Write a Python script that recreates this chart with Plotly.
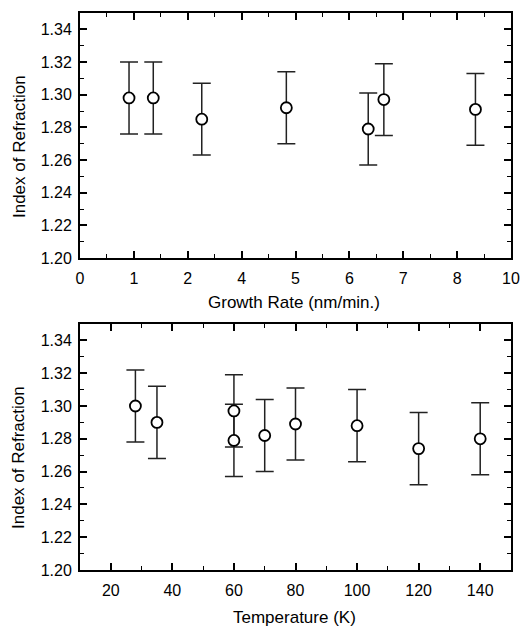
import plotly.graph_objects as go

# ---- Top panel: index of refraction vs growth rate ----
# x values are positions on the printed axis (tick index units, ticks labelled below)
growth_pos = [0.91, 1.36, 2.26, 3.83, 5.35, 5.64, 7.34]
growth_n = [1.298, 1.298, 1.285, 1.292, 1.279, 1.297, 1.291]
growth_err = [0.022, 0.022, 0.022, 0.022, 0.022, 0.022, 0.022]
growth_tickpos = [0, 1, 2, 3, 4, 5, 6, 7, 8]
growth_ticklabels = ["0", "1", "2", "4", "5", "6", "7", "8", "10"]

# ---- Bottom panel: index of refraction vs temperature ----
temp_K = [28, 35, 60, 60, 70, 80, 100, 120, 140]
temp_n = [1.300, 1.290, 1.297, 1.279, 1.282, 1.289, 1.288, 1.274, 1.280]
temp_err = [0.022, 0.022, 0.022, 0.022, 0.022, 0.022, 0.022, 0.022, 0.022]

FONT = "Liberation Sans, Arial, Helvetica, sans-serif"
TITLE_FONT = dict(family=FONT, size=17, color="black")

errstyle = dict(color="#222222", thickness=1.5, width=9)
mk = dict(symbol="circle", size=11, color="white", line=dict(width=1.8, color="black"))

fig = go.Figure()
fig.add_trace(go.Scatter(
    x=growth_pos, y=growth_n, mode="markers", xaxis="x", yaxis="y", marker=mk,
    error_y=dict(type="data", array=growth_err, visible=True, **errstyle),
    showlegend=False))
fig.add_trace(go.Scatter(
    x=temp_K, y=temp_n, mode="markers", xaxis="x2", yaxis="y2", marker=mk,
    error_y=dict(type="data", array=temp_err, visible=True, **errstyle),
    showlegend=False))

axis_common = dict(
    showline=True, linecolor="black", linewidth=2, mirror="allticks",
    ticks="inside", ticklen=7, tickwidth=1.6, tickcolor="black",
    showgrid=False, zeroline=False, automargin=False,
    tickfont=dict(family=FONT, size=16, color="black"),
)
yaxis_common = dict(
    axis_common, range=[1.20, 1.35], tickmode="linear", tick0=1.20, dtick=0.02,
    tickformat=".2f",
    minor=dict(ticks="inside", ticklen=4, tickwidth=1.4, tickcolor="black", dtick=0.01, tick0=1.20),
    ticklabelstandoff=3,
)

fig.update_layout(
    width=532, height=626,
    margin=dict(l=80, r=21, t=13, b=56),
    paper_bgcolor="white", plot_bgcolor="white",
    font=dict(family=FONT, color="black"),
    xaxis=dict(
        axis_common, domain=[0, 1], anchor="y", range=[0, 8],
        tickmode="array", tickvals=growth_tickpos, ticktext=growth_ticklabels,
        minor=dict(ticks="inside", ticklen=4, tickwidth=1.4, tickcolor="black",
                   tickvals=[p + 0.5 for p in growth_tickpos[:-1]]),
        ticklabelstandoff=5,
    ),
    yaxis=dict(yaxis_common, domain=[0.5601, 1.0], anchor="x"),
    xaxis2=dict(
        axis_common, domain=[0, 1], anchor="y2", range=[10, 150],
        tickmode="linear", tick0=20, dtick=20,
        minor=dict(ticks="inside", ticklen=4, tickwidth=1.4, tickcolor="black", dtick=10, tick0=10),
        ticklabelstandoff=5,
    ),
    yaxis2=dict(yaxis_common, domain=[0.0, 0.4417], anchor="x2"),
    annotations=[
        dict(text="Growth Rate (nm/min.)", xref="paper", yref="paper", x=0.497, y=0.4811,
             xanchor="center", yanchor="middle", showarrow=False, font=TITLE_FONT),
        dict(text="Temperature (K)", xref="paper", yref="paper", x=0.497, y=-0.0844,
             xanchor="center", yanchor="middle", showarrow=False, font=TITLE_FONT),
        dict(text="Index of Refraction", xref="paper", yref="paper", x=-0.1415, y=0.7594,
             xanchor="center", yanchor="middle", showarrow=False, textangle=-90, font=TITLE_FONT),
        dict(text="Index of Refraction", xref="paper", yref="paper", x=-0.1415, y=0.2011,
             xanchor="center", yanchor="middle", showarrow=False, textangle=-90, font=TITLE_FONT),
    ],
)

fig.write_html("out.html")
